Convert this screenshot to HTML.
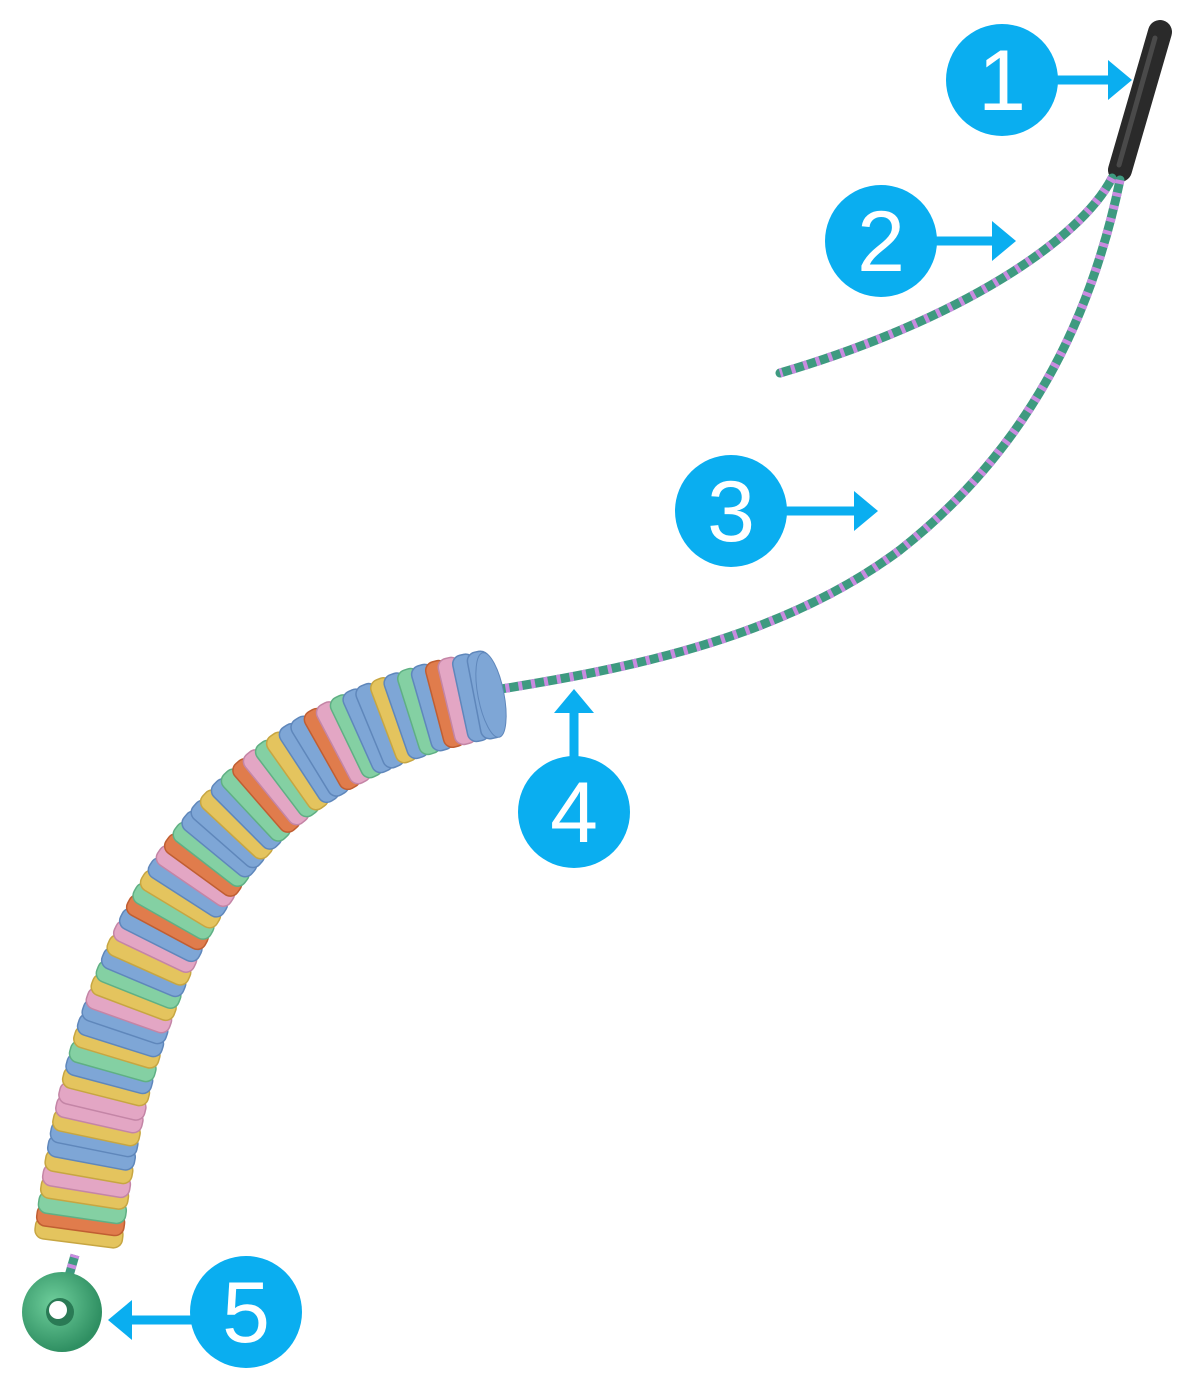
<!DOCTYPE html>
<html><head><meta charset="utf-8"><style>
html,body{margin:0;padding:0;background:#fff;}
svg{display:block}
text{font-family:"Liberation Sans",sans-serif;fill:#fff;font-size:86px;text-anchor:middle}
</style></head><body>
<svg id="s" width="1200" height="1382" viewBox="0 0 1200 1382" xmlns="http://www.w3.org/2000/svg">
<defs>
<radialGradient id="rg" cx="0.4" cy="0.4" r="0.6"><stop offset="0" stop-color="#6fcf9c"/><stop offset="1" stop-color="#2f8f62"/></radialGradient>
</defs>
<line x1="1160" y1="32" x2="1120" y2="170" stroke="#2a2a2a" stroke-width="24" stroke-linecap="round"/>
<line x1="1155" y1="38" x2="1119" y2="165" stroke="#4a4a4a" stroke-width="5" stroke-linecap="round"/>
<g fill="none">
<path d="M1112,178 C1080,240 960,320 780,373" stroke="#3e9a80" stroke-width="9" stroke-linecap="round"/>
<path d="M1112,178 C1080,240 960,320 780,373" stroke="#c88be0" stroke-width="9" stroke-dasharray="4 9"/>
<path d="M1120,180 C1095,300 1040,440 900,550 C780,640 620,670 495,690" stroke="#3e9a80" stroke-width="9" stroke-linecap="round"/>
<path d="M1120,180 C1095,300 1040,440 900,550 C780,640 620,670 495,690" stroke="#c88be0" stroke-width="9" stroke-dasharray="4 9"/>
<path d="M62,1300 L75,1255" stroke="#3e9a80" stroke-width="9"/>
<path d="M62,1300 L75,1255" stroke="#c88be0" stroke-width="9" stroke-dasharray="4 7"/>
</g>
<g id="discs"></g>
<circle cx="62" cy="1312" r="40" fill="url(#rg)"/>
<circle cx="60" cy="1312" r="14" fill="#2a7a55"/>
<circle cx="58" cy="1310" r="9" fill="#fff"/>
<g fill="#0aaef0" stroke="#0aaef0">
<circle cx="1002" cy="80" r="56" stroke="none"/>
<circle cx="881" cy="241" r="56" stroke="none"/>
<circle cx="731" cy="511" r="56" stroke="none"/>
<circle cx="574" cy="812" r="56" stroke="none"/>
<circle cx="246" cy="1312" r="56" stroke="none"/>
<line x1="1050" y1="80" x2="1110" y2="80" stroke-width="9"/>
<polygon points="1132,80 1108,60 1108,100" stroke="none"/>
<line x1="930" y1="241" x2="995" y2="241" stroke-width="9"/>
<polygon points="1016,241 992,221 992,261" stroke="none"/>
<line x1="780" y1="511" x2="857" y2="511" stroke-width="9"/>
<polygon points="878,511 854,491 854,531" stroke="none"/>
<line x1="574" y1="765" x2="574" y2="710" stroke-width="9"/>
<polygon points="574,689 554,713 594,713" stroke="none"/>
<line x1="195" y1="1320" x2="130" y2="1320" stroke-width="9"/>
<polygon points="108,1320 132,1300 132,1340" stroke="none"/>
</g>
<text x="1002" y="110">1</text>
<text x="881" y="271">2</text>
<text x="731" y="541">3</text>
<text x="574" y="842">4</text>
<text x="246" y="1342">5</text>
</svg>
<script>
(function(){
var P=[[485,695],[250,740],[120,900],[78,1240]];
function b(t){var u=1-t;return [u*u*u*P[0][0]+3*u*u*t*P[1][0]+3*u*t*t*P[2][0]+t*t*t*P[3][0],u*u*u*P[0][1]+3*u*u*t*P[1][1]+3*u*t*t*P[2][1]+t*t*t*P[3][1]];}
var pts=[],L=[0],N=400;for(var i=0;i<=N;i++){pts.push(b(i/N));if(i)L.push(L[i-1]+Math.hypot(pts[i][0]-pts[i-1][0],pts[i][1]-pts[i-1][1]));}
var total=L[N],step=13.5,cols=[["#7ea6d6","#5f87bb"],["#e4c45e","#c7a642"],["#84d0a3","#5fb084"],["#e3a6c4","#c485a6"],["#e07c4c","#c05e32"]];
var seq=[0,0,3,4,0,2,0,1,0,0,2,3,4,0,0,1,2,3,4,2,0,1,0,0,2,4,3,0,1,2,4,0,3,1,0,2,1,3,0,0,1,2,0,1,3,3,1,0,0,1,3,1,2,4,1,3,4,2,1,2,0,3,1];
var g=document.getElementById('discs'),ns='http://www.w3.org/2000/svg',arr=[];
for(var s=0,k=0;s<=total;s+=step,k++){var j=0;while(j<N&&L[j]<s)j++;var p=pts[j],q=pts[Math.min(j+1,N)],r=pts[Math.max(j-1,0)];var a=Math.atan2(q[1]-r[1],q[0]-r[0])*180/Math.PI;arr.push([p,a,cols[seq[k%seq.length]]]);}
for(var m=arr.length-1;m>=0;m--){var d=arr[m],e=document.createElementNS(ns,'rect');
e.setAttribute('x',-11);e.setAttribute('y',-44);e.setAttribute('width',22);e.setAttribute('height',88);e.setAttribute('rx',9);
e.setAttribute('fill',d[2][0]);e.setAttribute('stroke',d[2][1]);e.setAttribute('stroke-width',1.5);
e.setAttribute('transform','translate('+d[0][0]+','+d[0][1]+') rotate('+d[1]+')');g.appendChild(e);}
var c=arr[0],f=document.createElementNS(ns,'ellipse');f.setAttribute('rx',13);f.setAttribute('ry',43);f.setAttribute('fill','#7ea6d6');f.setAttribute('stroke','#5f87bb');
f.setAttribute('transform','translate('+(c[0][0]+6)+','+c[0][1]+') rotate('+c[1]+')');g.appendChild(f);
})();
</script>
</body></html>
